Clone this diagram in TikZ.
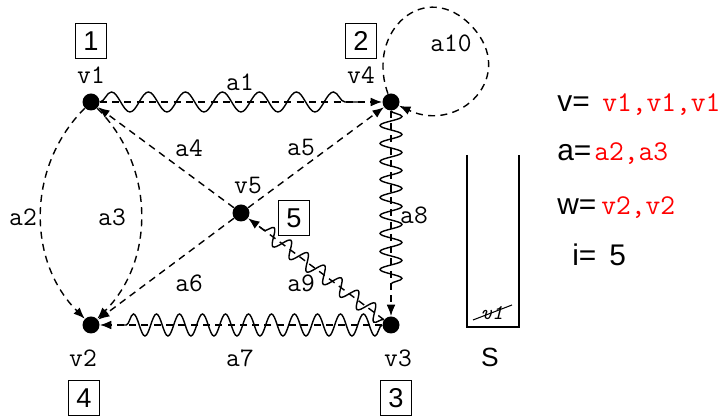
\documentclass[tikz,border=0pt]{standalone}
\usepackage{fontspec}
\setmainfont{Liberation Sans}
\usetikzlibrary{decorations.pathmorphing,calc,arrows.meta}

\begin{document}
\begin{tikzpicture}[>={Latex[length=6.5pt,width=5pt]}]
\tikzstyle{vert}=[circle,fill=black,inner sep=0pt,minimum size=0.34cm]
\tikzstyle{lbl}=[inner sep=1pt,font=\fontsize{15.2}{18}\selectfont\ttfamily]
\tikzstyle{numbox}=[draw=black,line width=0.6pt,inner xsep=4.6pt,inner ysep=4.4pt,font=\fontsize{15.5}{18}\selectfont]
\tikzstyle{edg}=[->,line width=0.8pt,dash pattern=on 4pt off 3pt]
\tikzstyle{wavy}=[line width=0.8pt,decorate]
\tikzstyle{eq}=[inner sep=0pt,anchor=base west,font=\fontsize{17}{20}\selectfont]
\tikzstyle{val}=[inner sep=0pt,anchor=base west,text=red,font=\fontsize{16.3}{19}\selectfont\ttfamily]

\useasboundingbox (0,0) rectangle (14.54,8.38);

\node[vert] (v1) at (1.82,6.34) {};
\node[vert] (v4) at (7.82,6.34) {};
\node[vert] (v5) at (4.82,4.12) {};
\node[vert] (v2) at (1.82,1.88) {};
\node[vert] (v3) at (7.82,1.88) {};

\node[lbl] (t1) at (1.82,6.88) {v1};
\node[lbl] (t4) at (7.22,6.88) {v4};
\node[lbl] (t5) at (4.96,4.66) {v5};
\node[lbl] (t2) at (1.66,1.22) {v2};
\node[lbl] (t3) at (7.96,1.22) {v3};

\node[numbox] (n1) at (1.82,7.56) {1};
\node[numbox] (n2) at (7.22,7.56) {2};
\node[numbox] (n5) at (5.88,4.02) {5};
\node[numbox] (n4) at (1.68,0.42) {4};
\node[numbox] (n3) at (7.92,0.42) {3};

\draw[edg] (v1) -- (v4);
\draw[edg] (v1) to[bend right=45] (v2);
\draw[edg] (v1) to[bend left=45] (v2);
\draw[edg] (v5) -- (v1);
\draw[edg] (v5) -- (v4);
\draw[edg] (v5) -- (v2);
\draw[edg] (v3) -- (v2);
\draw[edg] (v4) -- (v3);
\draw[edg] (v3) -- (v5);
\coordinate (lp) at (9.44,7.85);
\draw[edg] (v4) to[out=110,in=133,looseness=1.6] (lp) to[out=-47,in=-25,looseness=1.6] (v4);

\draw[wavy,decoration={snake,segment length=0.74cm,amplitude=0.2cm}] (v1) -- ($(v4)!0.58cm!(v1)$);
\draw[wavy,decoration={snake,segment length=0.36cm,amplitude=0.22cm}] (v4) -- ($(v3)!0.7cm!(v4)$);
\draw[wavy,decoration={snake,segment length=0.46cm,amplitude=0.22cm}] (v3) -- ($(v2)!0.62cm!(v3)$);
\draw[wavy,decoration={snake,segment length=0.42cm,amplitude=0.16cm}] (v3) -- ($(v5)!0.45cm!(v3)$);

\node[lbl] (a1) at (4.80,6.74) {a1};
\node[lbl] (a2) at (0.46,4.04) {a2};
\node[lbl] (a3) at (2.24,4.04) {a3};
\node[lbl] (a4) at (3.78,5.42) {a4};
\node[lbl] (a5) at (6.02,5.42) {a5};
\node[lbl] (a6) at (3.78,2.72) {a6};
\node[lbl] (a7) at (4.80,1.22) {a7};
\node[lbl] (a8) at (8.28,4.08) {a8};
\node[lbl] (a9) at (6.02,2.72) {a9};
\node[lbl] (a10) at (9.02,7.52) {a10};

\draw[line width=1.6pt] (9.34,5.28) -- (9.34,1.84) -- (10.38,1.84) -- (10.38,5.28);
\node[inner sep=0pt,font=\fontsize{12}{14}\selectfont\ttfamily\itshape] (s1) at (9.84,2.12) {v1};
\draw[line width=0.6pt] (9.46,1.98) -- (10.24,2.28);
\node[font=\fontsize{15}{18}\selectfont] (s) at (9.80,1.24) {S};

\node[eq] (ev) at (11.14,6.14) {v=};
\node[val] (vv) at (12.04,6.14) {v1,v1,v1};
\node[eq] (ea) at (11.14,5.16) {a=};
\node[val] (va) at (11.88,5.16) {a2,a3};
\node[eq] (ew) at (11.14,4.08) {w=};
\node[val] (vw) at (12.02,4.08) {v2,v2};
\node[eq] (ei) at (11.44,3.06) {i=};
\node[eq] (vi) at (12.18,3.06) {5};
\end{tikzpicture}
\end{document}
